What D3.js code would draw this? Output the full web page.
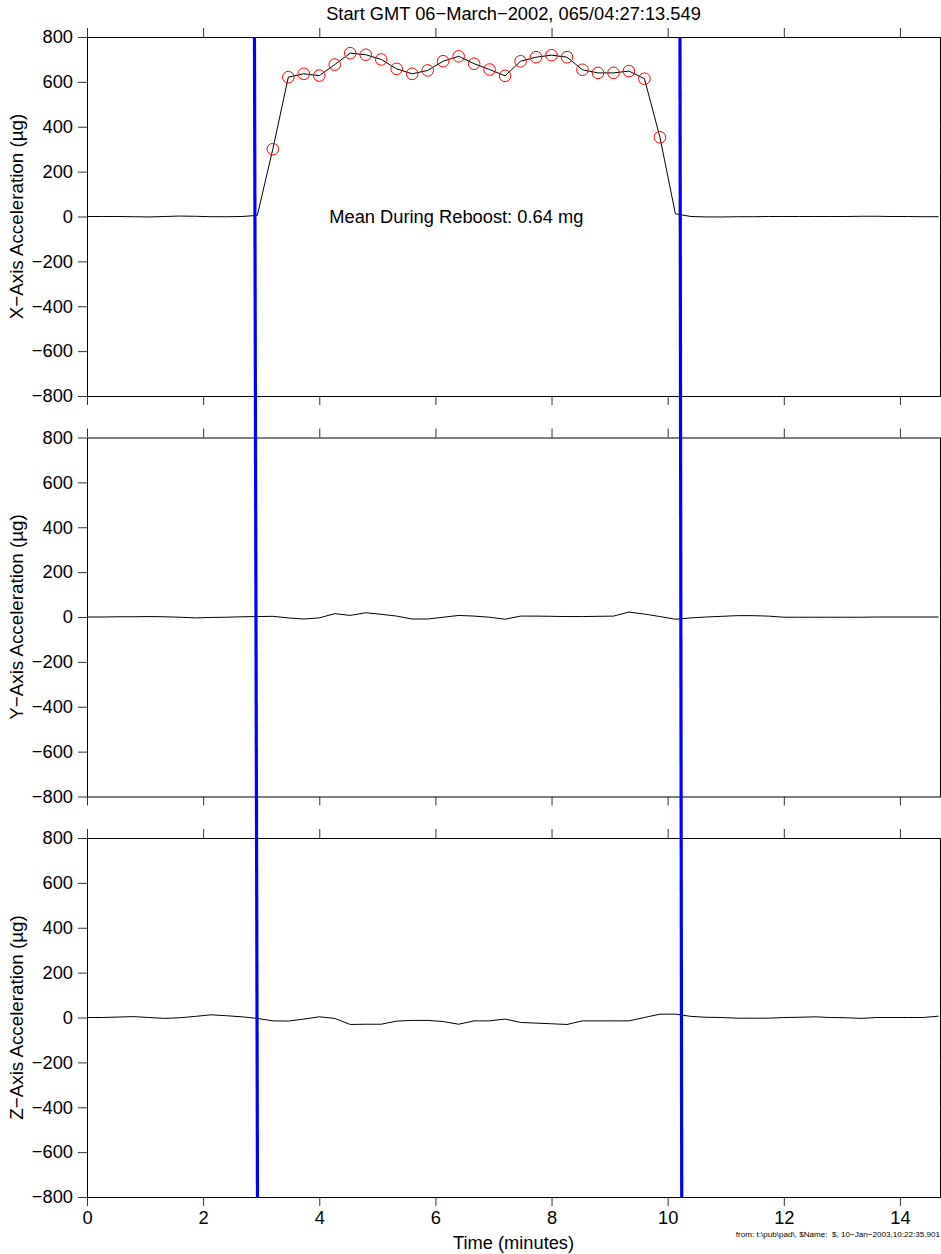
<!DOCTYPE html>
<html>
<head>
<meta charset="utf-8">
<script src="https://cdn.jsdelivr.net/npm/d3@7"></script>
<style>
  body { margin: 0; background: #fff; }
  svg { display: block; font-family: "Liberation Sans", Arial, Helvetica, sans-serif; }
  .tick line { stroke: #333; }
  .domain { stroke: #000; }
</style>
</head>
<body>
<div id="chart"></div>
<script>
// Sample times (minutes after start), 16 s apart
const timeMin = [0, 0.267, 0.533, 0.8, 1.067, 1.333, 1.6, 1.867, 2.133, 2.4, 2.667, 2.933,
    3.2, 3.467, 3.733, 4.0, 4.267, 4.533, 4.8, 5.067, 5.333, 5.6, 5.867, 6.133, 6.4, 6.667,
    6.933, 7.2, 7.467, 7.733, 8.0, 8.267, 8.533, 8.8, 9.067, 9.333, 9.6, 9.867, 10.133, 10.4,
    10.667, 10.933, 11.2, 11.467, 11.733, 12.0, 12.267, 12.533, 12.8, 13.067, 13.333, 13.6,
    13.867, 14.133, 14.4, 14.667];

// Acceleration in micro-g
const xAccel = [0, 0, 0, -1, -2, 0, 2, 1, -1, -1, 0, 5,
    300, 621, 636, 628, 677, 728, 721, 700, 658, 636, 651, 692, 714, 681,
    655, 627, 692, 710, 719, 710, 654, 640, 640, 648, 614, 353, 12, 0,
    -2, -2, -1, -1, 0, 0, 0, 0, 0, 0, 1, 1,
    0, 0, -1, -1];
const yAccel = [0, 0, 1, 1, 2, 1, -1, -4, -2, -1, 1, 2,
    3, -4, -9, -4, 15, 7, 19, 12, 4, -9, -9, -1, 7, 4,
    -1, -10, 4, 4, 3, 2, 2, 3, 4, 22, 13, 2, -10, -4,
    0, 3, 6, 6, 4, -1, -1, -1, -1, -1, -1, 0,
    0, 0, 0, 0];
const zAccel = [0, 0, 2, 4, 0, -4, -1, 5, 12, 8, 3, -4,
    -15, -16, -7, 3, -4, -31, -30, -30, -16, -13, -13, -18, -30, -15,
    -15, -7, -22, -25, -28, -31, -15, -15, -15, -15, 0, 15, 15, 5,
    1, 0, -3, -3, -3, 0, 1, 3, 0, -1, -4, 0,
    0, 0, 0, 6];

const axisLabels = ['X\u2212Axis Acceleration (\u00b5g)', 'Y\u2212Axis Acceleration (\u00b5g)', 'Z\u2212Axis Acceleration (\u00b5g)'];
const yTicks = [-800, -600, -400, -200, 0, 200, 400, 600, 800];
const xTicks = [0, 2, 4, 6, 8, 10, 12, 14];

// Reboost boundaries (minutes) as drawn: [at top, at bottom]
const reboostStart = [2.884, 2.936];
const reboostEnd = [10.212, 10.242];
const reboostWindow = [3.0, 10.0];
const meanLabel = 'Mean During Reboost: 0.64 mg';

const titleText = 'Start GMT 06\u2212March\u22122002, 065/04:27:13.549';
const footerText = 'from: t:\\pub\\pad\\, $Name:  $, 10\u2212Jan\u22122003,10:22:35.901';

const width = 941;
const height = 1254;
const left = 87, right = 940;
const panelTops = [37, 437.5, 838];
const panelH = 359;
const fs = 18.3;

const svg = d3.select('#chart')
    .append('svg')
    .attr('width', width)
    .attr('height', height);

const x = d3.scaleLinear().domain([0, 14.69]).range([left, right]);

const series = [xAccel, yAccel, zAccel];

series.forEach((vals, i) => {
    const top = panelTops[i];
    const y = d3.scaleLinear().domain([-800, 800]).range([top + panelH, top]);
    const pts = timeMin.map((t, k) => ({ t: t, v: vals[k] }));

    const g = svg.append('g');

    g.append('clipPath')
        .attr('id', 'clip' + i)
        .append('rect')
        .attr('x', left).attr('y', top)
        .attr('width', right - left).attr('height', panelH);

    // axes on all four sides, ticks outward
    g.append('g')
        .attr('transform', `translate(${left},0)`)
        .call(d3.axisLeft(y).tickValues(yTicks).tickSize(9).tickPadding(5).tickSizeOuter(0))
        .call(s => s.selectAll('text').attr('font-size', fs).attr('fill', '#000'));
    g.append('g')
        .attr('transform', `translate(${right},0)`)
        .call(d3.axisRight(y).tickValues(yTicks).tickSize(9).tickFormat('').tickSizeOuter(0));
    g.append('g')
        .attr('transform', `translate(0,${top})`)
        .call(d3.axisTop(x).tickValues(xTicks).tickSize(9).tickFormat('').tickSizeOuter(0));
    const bottom = g.append('g')
        .attr('transform', `translate(0,${top + panelH})`)
        .call(d3.axisBottom(x).tickValues(xTicks).tickSize(9).tickPadding(5).tickSizeOuter(0));
    if (i < 2) {
        bottom.selectAll('text').remove();
    } else {
        bottom.selectAll('text').attr('font-size', fs).attr('fill', '#000');
    }

    // data line
    g.append('path')
        .datum(pts)
        .attr('clip-path', `url(#clip${i})`)
        .attr('fill', 'none')
        .attr('stroke', '#000')
        .attr('stroke-width', 1)
        .attr('d', d3.line().x(d => x(d.t)).y(d => y(d.v)));

    // y label
    g.append('text')
        .attr('transform', `translate(23,${top + panelH / 2}) rotate(-90)`)
        .attr('text-anchor', 'middle')
        .attr('font-size', fs + 0.5)
        .text(axisLabels[i]);

    if (i === 0) {
        g.selectAll('circle')
            .data(pts.filter(d => d.t >= reboostWindow[0] && d.t <= reboostWindow[1]))
            .enter()
            .append('circle')
            .attr('cx', d => x(d.t))
            .attr('cy', d => y(d.v))
            .attr('r', 5.8)
            .attr('fill', 'none')
            .attr('stroke', '#ff0000')
            .attr('stroke-width', 1);

        g.append('text')
            .attr('x', x(6.36))
            .attr('y', y(-31))
            .attr('text-anchor', 'middle')
            .attr('font-size', fs)
            .text(meanLabel);
    }
});

// reboost markers spanning all three panels
const yTop = panelTops[0];
const yBot = panelTops[2] + panelH;
[reboostStart, reboostEnd].forEach(b => {
    svg.append('line')
        .attr('x1', x(b[0])).attr('y1', yTop)
        .attr('x2', x(b[1])).attr('y2', yBot)
        .attr('stroke', '#0000ff')
        .attr('stroke-width', 3.2);
});

// title and labels
svg.append('text')
    .attr('x', (left + right) / 2)
    .attr('y', 20)
    .attr('text-anchor', 'middle')
    .attr('font-size', fs)
    .text(titleText);

svg.append('text')
    .attr('x', (left + right) / 2)
    .attr('y', 1249)
    .attr('text-anchor', 'middle')
    .attr('font-size', fs)
    .text('Time (minutes)');

svg.append('text')
    .attr('x', 940)
    .attr('y', 1237)
    .attr('text-anchor', 'end')
    .attr('font-size', 8.1)
    .style('white-space', 'pre')
    .text(footerText);
</script>
</body>
</html>
